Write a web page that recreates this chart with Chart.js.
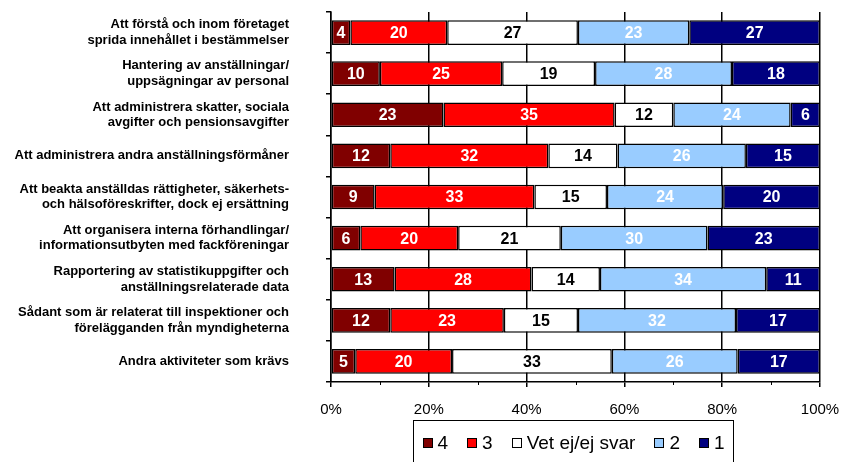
<!DOCTYPE html>
<html>
<head>
<meta charset="utf-8">
<script src="https://cdn.jsdelivr.net/npm/chart.js@4/dist/chart.umd.min.js"></script>
<style>
  html, body { margin: 0; padding: 0; background: #fff; }
  #wrap { position: relative; width: 842px; height: 462px; overflow: hidden; }
  #legend {
    position: absolute; left: 413px; top: 420px; width: 321px; height: 60px;
    border: 1.5px solid #000; box-sizing: border-box;
    font-family: "Liberation Sans", Arial, sans-serif; font-size: 19px;
    display: flex; align-items: flex-start; padding: 11px 0 0 8.5px;
    white-space: nowrap;
  }
  #legend .item { display: flex; align-items: center; margin-right: 19px; line-height: 22px; flex-shrink: 0; }
  #legend .sw { width: 8px; height: 8px; border: 1.3px solid #000; margin-right: 5px; }
</style>
</head>
<body>
<div id="wrap">
  <canvas id="mycanvas" width="842" height="462"></canvas>
  <div id="legend"></div>
</div>
<script>
var categories = [
  ['Att förstå och inom företaget', 'sprida innehållet i bestämmelser'],
  ['Hantering av anställningar/', 'uppsägningar av personal'],
  ['Att administrera skatter, sociala', 'avgifter och pensionsavgifter'],
  'Att administrera andra anställningsförmåner',
  ['Att beakta anställdas rättigheter, säkerhets-', 'och hälsoföreskrifter, dock ej ersättning'],
  ['Att organisera interna förhandlingar/', 'informationsutbyten med fackföreningar'],
  ['Rapportering av statistikuppgifter och', 'anställningsrelaterade data'],
  ['Sådant som är relaterat till inspektioner och', 'förelägganden från myndigheterna'],
  'Andra aktiviteter som krävs'
];
var series4 = [4, 10, 23, 12, 9, 6, 13, 12, 5];
var series3 = [20, 25, 35, 32, 33, 20, 28, 23, 20];
var seriesVet = [27, 19, 12, 14, 15, 21, 14, 15, 33];
var series2 = [23, 28, 24, 26, 24, 30, 34, 32, 26];
var series1 = [27, 18, 6, 15, 20, 23, 11, 17, 17];
var seriesNames = ['4', '3', 'Vet ej/ej svar', '2', '1'];
var seriesColors = ['#800000', '#ff0000', '#ffffff', '#99ccff', '#000080'];
var labelColors = ['#fff', '#fff', '#000', '#fff', '#fff'];
var xTickValues = [0, 20, 40, 60, 80, 100];
var xMinorValues = [10, 30, 50, 70, 90];

var FONT = '"Liberation Sans", Arial, sans-serif';
var raw = [series4, series3, seriesVet, series2, series1];

// rows don't always add to 100, Excel shows them as 100% stacked
var totals = categories.map(function(c, i) {
  var s = 0;
  for (var k = 0; k < raw.length; k++) s += raw[k][i];
  return s;
});

var datasets = raw.map(function(vals, k) {
  return {
    label: seriesNames[k],
    data: vals.map(function(v, i) { return v / totals[i] * 100; }),
    backgroundColor: seriesColors[k],
    borderColor: '#000',
    borderWidth: 1.5,
    borderSkipped: false,
    barPercentage: 0.6,
    categoryPercentage: 1
  };
});

var valueLabels = {
  id: 'valueLabels',
  afterDatasetsDraw: function(chart) {
    var ctx = chart.ctx;
    ctx.save();
    ctx.font = 'bold 16px ' + FONT;
    ctx.textAlign = 'center';
    ctx.textBaseline = 'middle';
    chart.data.datasets.forEach(function(ds, k) {
      chart.getDatasetMeta(k).data.forEach(function(bar, i) {
        ctx.fillStyle = labelColors[k];
        ctx.fillText(String(raw[k][i]), (bar.x + bar.base) / 2, bar.y + 1);
      });
    });
    ctx.restore();
  }
};

var minorTicks = {
  id: 'minorTicks',
  afterDraw: function(chart) {
    var ctx = chart.ctx, sx = chart.scales.x;
    var y = chart.chartArea.bottom;
    ctx.save();
    ctx.strokeStyle = '#000';
    ctx.lineWidth = 1;
    xMinorValues.forEach(function(v) {
      var x = Math.round(sx.getPixelForValue(v)) + 0.5;
      ctx.beginPath();
      ctx.moveTo(x, y);
      ctx.lineTo(x, y + 3);
      ctx.stroke();
    });
    ctx.restore();
  }
};

var ctx = document.getElementById('mycanvas');
var barGraph = new Chart(ctx, {
  type: 'bar',
  data: { labels: categories, datasets: datasets },
  plugins: [valueLabels, minorTicks],
  options: {
    indexAxis: 'y',
    responsive: false,
    animation: false,
    layout: { padding: { top: 12, right: 22, left: 0, bottom: 0 } },
    plugins: { legend: { display: false }, tooltip: { enabled: false } },
    scales: {
      x: {
        stacked: true,
        min: 0,
        max: 100,
        afterBuildTicks: function(s) { s.ticks = xTickValues.map(function(v) { return { value: v }; }); },
        afterFit: function(s) { s.height = 80; s.paddingLeft = 0; s.paddingRight = 0; },
        ticks: {
          callback: function(v) { return v + '%'; },
          color: '#000',
          font: { family: FONT, size: 15 },
          padding: 14,
          maxRotation: 0
        },
        grid: { color: '#000', lineWidth: 1.5, tickLength: 5 },
        border: { color: '#000', width: 1.5 }
      },
      y: {
        stacked: true,
        afterFit: function(s) { s.width = 331; s.paddingTop = 0; s.paddingBottom = 0; },
        ticks: {
          color: '#000',
          font: { family: FONT, size: 13, weight: 'bold', lineHeight: 1.2 },
          padding: 37
        },
        grid: { offset: true, drawOnChartArea: false, color: '#000', lineWidth: 1.5, tickLength: 5 },
        border: { color: '#000', width: 1.5 }
      }
    }
  }
});

var legend = document.getElementById('legend');
seriesNames.forEach(function(name, k) {
  var item = document.createElement('div');
  item.className = 'item';
  var sw = document.createElement('span');
  sw.className = 'sw';
  sw.style.background = seriesColors[k];
  var tx = document.createElement('span');
  tx.textContent = name;
  item.appendChild(sw);
  item.appendChild(tx);
  legend.appendChild(item);
});
</script>
</body>
</html>
